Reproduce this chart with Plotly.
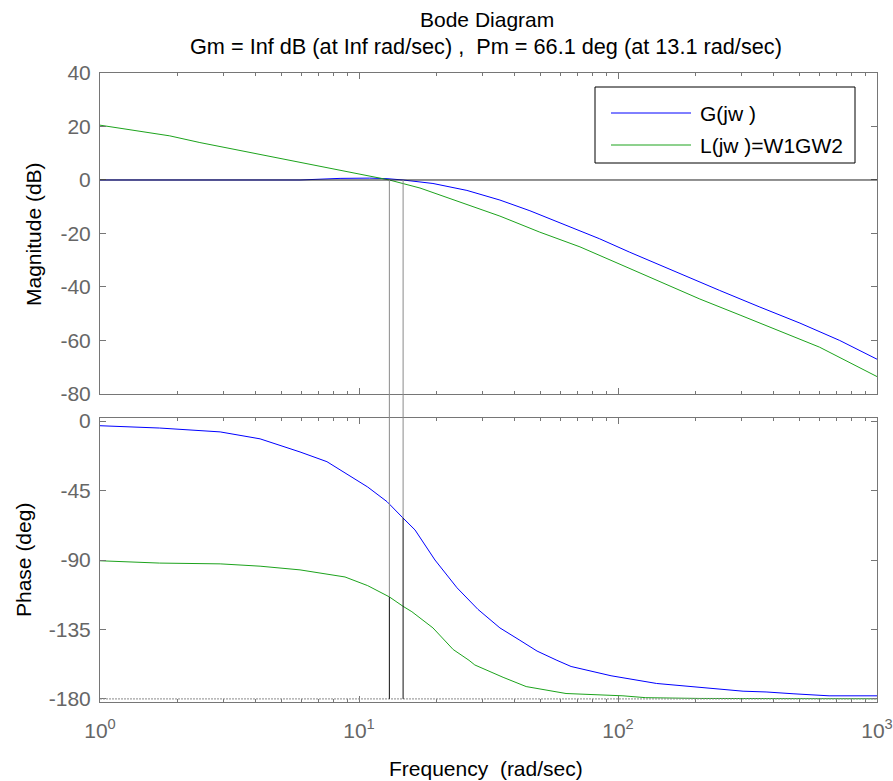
import plotly.graph_objects as go

# ---- data: Bode magnitude (dB) and phase (deg) vs frequency (rad/sec) ----
mag_freq_G = [1, 2, 4, 5.92, 7.07, 8.45, 11.0, 12.83, 14.79, 19.3, 26.1, 35.0, 45.7,
              59.7, 85.0, 111, 173, 247, 353, 504, 718, 1000]
mag_G = [0, 0, 0, 0, 0.3, 0.6, 0.7, 0.5, 0, -1.3, -3.9, -7.5, -11.5,
         -16, -22, -27, -35, -41.3, -47.5, -53.5, -60, -67]

mag_freq_L = [1, 1.86, 2.43, 4.15, 5.92, 8.45, 13.1, 17.2, 26.9, 35.0, 49.9, 71.3,
              101.8, 145, 207, 296, 420, 600, 1000]
mag_L = [20.5, 16.5, 14, 9.5, 6.5, 3.5, 0, -3, -9.5, -13.5, -19.5, -25,
         -31.5, -38, -44.5, -50.5, -56.5, -62.5, -73.5]

ph_freq_G = [1, 1.70, 2.91, 4.15, 5.92, 7.52, 10.8, 12.83, 14.79, 16.45, 19.65, 23.9,
             28.8, 35.0, 41.8, 48.7, 58.1, 65.9, 94.0, 141, 304, 373, 478, 653, 1000]
ph_G = [-3, -4.5, -7, -11.5, -20, -26.3, -42.7, -52.2, -62.8, -70.5, -90, -108,
        -122, -134, -142, -149, -155, -159, -165, -170, -175, -175.5, -176.7, -178, -178]

ph_freq_L = [1, 1.7, 2.91, 4.15, 5.92, 8.83, 10.8, 13.1, 14.79, 16.0, 19.3, 23.1,
             26.6, 28.0, 36.0, 44.2, 63.0, 104.5, 128, 207, 1000]
ph_L = [-90.5, -92, -92.5, -94, -96.4, -101, -106.6, -113.9, -120, -123.5, -134, -148,
        -155, -158, -166, -172, -176.5, -178, -179.2, -179.7, -179.9]

# stability margins
pm_freq = 13.1          # L crossover (rad/sec)
pm = 66.1               # phase margin (deg)
g_cross_freq = 14.8     # G crossover (rad/sec)
g_cross_phase = -62.8   # G phase at its crossover (deg)

mag_ticks = [40, 20, 0, -20, -40, -60, -80]
mag_ticktext = ["40", "20", "0", "-20", "-40", "-60", "-80"]
ph_ticks = [0, -45, -90, -135, -180]
ph_ticktext = ["0", "-45", "-90", "-135", "-180"]
freq_ticks = [1, 10, 100, 1000]
freq_ticktext = ["10<sup>0</sup>", "10<sup>1</sup>", "10<sup>2</sup>", "10<sup>3</sup>"]
freq_minor = [m * d for d in (1, 10, 100) for m in range(2, 10)]

legend_names = ["G(jw )", "L(jw )=W1GW2"]
title_lines = ["Bode Diagram",
               "Gm = Inf dB (at Inf rad/sec) ,  Pm = 66.1 deg (at 13.1 rad/sec)"]

# ---- styling ----
BLUE = "#0000ff"
GREEN = "#1ca31c"
AXC = "#767676"
TICKC = "#666666"
FONT = "Liberation Sans, Arial, sans-serif"

W, H = 893, 781
ML, MR, MT, MB = 100, 16, 73, 79
top_dom = [0.4897, 1.0]
bot_dom = [0.0, 0.4515]
mag_range = [-80, 40]
ph_range = [-182, 2]

fig = go.Figure()
line_kw = dict(mode="lines", showlegend=False, hoverinfo="skip")
fig.add_trace(go.Scatter(x=mag_freq_G, y=mag_G, xaxis="x", yaxis="y",
                         line=dict(color=BLUE, width=1), **line_kw))
fig.add_trace(go.Scatter(x=mag_freq_L, y=mag_L, xaxis="x", yaxis="y",
                         line=dict(color=GREEN, width=1), **line_kw))
fig.add_trace(go.Scatter(x=ph_freq_G, y=ph_G, xaxis="x2", yaxis="y2",
                         line=dict(color=BLUE, width=1), **line_kw))
fig.add_trace(go.Scatter(x=ph_freq_L, y=ph_L, xaxis="x2", yaxis="y2",
                         line=dict(color=GREEN, width=1), **line_kw))


def paper_y(val, rng, dom):
    return dom[0] + (val - rng[0]) / (rng[1] - rng[0]) * (dom[1] - dom[0])


shapes = []
GRAY = "#8a8a8a"
# 0 dB and -180 deg reference lines
shapes.append(dict(type="line", xref="x domain", yref="y", x0=0, x1=1, y0=0, y1=0,
                   line=dict(color="#222222", width=1), layer="above"))
shapes.append(dict(type="line", xref="x2 domain", yref="y2", x0=0, x1=1, y0=-180, y1=-180,
                   line=dict(color=GRAY, width=1, dash="2px,1px"), layer="above"))
# crossover markers: gray from 0 dB down to the phase curve, black from there to -180
for f, ph_val in [(pm_freq, -180 + pm), (g_cross_freq, g_cross_phase)]:
    shapes.append(dict(type="line", xref="x", yref="paper", x0=f, x1=f,
                       y0=paper_y(0, mag_range, top_dom),
                       y1=paper_y(ph_val, ph_range, bot_dom),
                       line=dict(color=GRAY, width=1), layer="above"))
    shapes.append(dict(type="line", xref="x2", yref="y2", x0=f, x1=f,
                       y0=ph_val, y1=-180,
                       line=dict(color="#111111", width=1), layer="above"))


def px_x(x):
    return (x - ML) / (W - ML - MR)


def px_y(y):
    return (H - MB - y) / (H - MT - MB)


# legend box
shapes.append(dict(type="rect", xref="paper", yref="paper",
                   x0=px_x(595), x1=px_x(855), y0=px_y(163), y1=px_y(87),
                   line=dict(color="black", width=1), fillcolor="white", layer="above"))
annotations = []
for name, col, yy in zip(legend_names, [BLUE, GREEN], [113, 145]):
    shapes.append(dict(type="line", xref="paper", yref="paper",
                       x0=px_x(611), x1=px_x(691), y0=px_y(yy), y1=px_y(yy),
                       line=dict(color=col, width=1), layer="above"))
    annotations.append(dict(xref="paper", yref="paper", x=px_x(698), y=px_y(yy),
                            text=name, showarrow=False, xanchor="left", yanchor="middle",
                            font=dict(family=FONT, size=21, color="black")))

# titles and axis labels
annotations.append(dict(xref="paper", yref="paper", x=px_x(487), y=px_y(19),
                        text=title_lines[0], showarrow=False, yanchor="middle",
                        font=dict(family=FONT, size=21, color="black")))
annotations.append(dict(xref="paper", yref="paper", x=px_x(486), y=px_y(47),
                        text=title_lines[1], showarrow=False, yanchor="middle",
                        font=dict(family=FONT, size=21.7, color="black")))
annotations.append(dict(xref="paper", yref="paper", x=px_x(33), y=px_y(234),
                        text="Magnitude (dB)", showarrow=False, textangle=-90,
                        xanchor="center", yanchor="middle",
                        font=dict(family=FONT, size=21, color="black")))
annotations.append(dict(xref="paper", yref="paper", x=px_x(23), y=px_y(560),
                        text="Phase (deg)", showarrow=False, textangle=-90,
                        xanchor="center", yanchor="middle",
                        font=dict(family=FONT, size=21, color="black")))
annotations.append(dict(xref="paper", yref="paper", x=px_x(486), y=px_y(768),
                        text="Frequency  (rad/sec)", showarrow=False, yanchor="middle",
                        font=dict(family=FONT, size=21, color="black")))

xcommon = dict(type="log", range=[0, 3], showline=True, linecolor=AXC, linewidth=1,
               mirror="ticks", ticks="inside", ticklen=6, tickcolor=AXC,
               showgrid=False, zeroline=False, tickvals=freq_ticks, automargin=False,
               minor=dict(ticks="inside", ticklen=3, tickcolor=AXC, tickmode="array",
                          tickvals=freq_minor, showgrid=False))
ycommon = dict(showline=True, linecolor=AXC, linewidth=1, mirror="ticks",
               ticks="inside", ticklen=6, tickcolor=AXC, showgrid=False,
               zeroline=False, automargin=False, ticklabelstandoff=4,
               tickfont=dict(family=FONT, size=21, color=TICKC))

fig.update_layout(
    width=W, height=H,
    margin=dict(l=ML, r=MR, t=MT, b=MB, autoexpand=False),
    paper_bgcolor="white", plot_bgcolor="white",
    showlegend=False,
    xaxis=dict(**xcommon, domain=[0, 1], anchor="y", showticklabels=False),
    yaxis=dict(**ycommon, domain=top_dom, anchor="x", range=mag_range,
               tickvals=mag_ticks, ticktext=mag_ticktext),
    xaxis2=dict(**xcommon, domain=[0, 1], anchor="y2", ticktext=freq_ticktext,
                ticklabelstandoff=10,
                tickfont=dict(family=FONT, size=21, color=TICKC)),
    yaxis2=dict(**ycommon, domain=bot_dom, anchor="x2", range=ph_range,
                tickvals=ph_ticks, ticktext=ph_ticktext),
    shapes=shapes,
    annotations=annotations,
)

fig.write_html("out.html")
